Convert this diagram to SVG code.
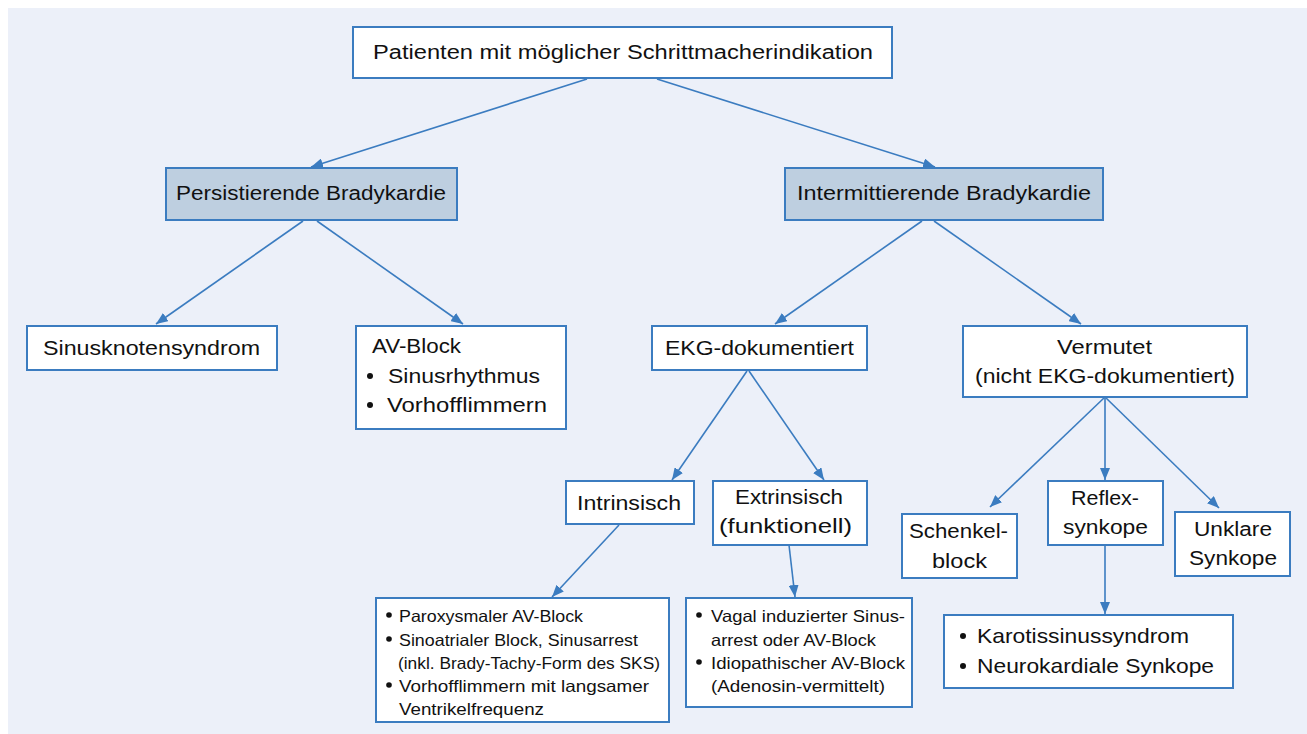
<svg xmlns="http://www.w3.org/2000/svg" width="1307" height="734" viewBox="0 0 1307 734">
<defs>
<marker id="ah" viewBox="0 0 12 10" refX="12" refY="5" markerWidth="12" markerHeight="10" markerUnits="userSpaceOnUse" orient="auto">
<path d="M0,0 L12,5 L0,10 z" fill="#3B7CC0"/>
</marker>
<style>
.bx{fill:#FFFFFF;stroke:#3B7CC0;stroke-width:2}
.hd{fill:#BECFE0;stroke:#3B7CC0;stroke-width:2}
.t{font-family:"Liberation Sans",Arial,sans-serif;font-size:20px;fill:#111111}
.s{font-family:"Liberation Sans",Arial,sans-serif;font-size:16.5px;fill:#111111}
.k{font-family:"Liberation Sans",Arial,sans-serif;font-size:21px;fill:#111111}
.c line{stroke:#3B7CC0;stroke-width:1.6;marker-end:url(#ah)}
.b{fill:#111111}
</style>
</defs>
<rect x="8" y="8" width="1299" height="726" fill="#ECF0F9"/>
<g class="c" id="connectors">
<line x1="587" y1="79" x2="311" y2="167"/>
<line x1="657" y1="79" x2="935" y2="167"/>
<line x1="303" y1="221" x2="156" y2="324"/>
<line x1="317" y1="221" x2="463" y2="324"/>
<line x1="922" y1="221" x2="775" y2="324"/>
<line x1="934" y1="221" x2="1081" y2="324"/>
<line x1="747" y1="371" x2="672" y2="480"/>
<line x1="749" y1="371" x2="824" y2="480"/>
<line x1="1105" y1="397" x2="990" y2="507"/>
<line x1="1105" y1="397" x2="1105" y2="480"/>
<line x1="1105" y1="397" x2="1219" y2="508"/>
<line x1="1105" y1="545" x2="1105" y2="614"/>
<line x1="619" y1="525" x2="552" y2="597"/>
<line x1="789" y1="545" x2="795" y2="597"/>
</g>
<g id="n_root">
<rect class="bx" x="353" y="27" width="539" height="51"/>
<text class="t" x="373" y="59" textLength="500" lengthAdjust="spacingAndGlyphs">Patienten mit möglicher Schrittmacherindikation</text>
</g>
<g id="n_persist">
<rect class="hd" x="166" y="168" width="291" height="52"/>
<text class="t" x="176" y="200" textLength="270" lengthAdjust="spacingAndGlyphs">Persistierende Bradykardie</text>
</g>
<g id="n_intermit">
<rect class="hd" x="785" y="168" width="318" height="52"/>
<text class="t" x="797" y="200" textLength="294" lengthAdjust="spacingAndGlyphs">Intermittierende Bradykardie</text>
</g>
<g id="n_sinus">
<rect class="bx" x="27" y="326" width="250" height="44"/>
<text class="t" x="43" y="355" textLength="217" lengthAdjust="spacingAndGlyphs">Sinusknotensyndrom</text>
</g>
<g id="n_avblock">
<rect class="bx" x="356" y="326" width="210" height="103"/>
<text class="t" x="372" y="353" textLength="89" lengthAdjust="spacingAndGlyphs">AV-Block</text>
<circle class="b" cx="370" cy="376" r="3"/>
<text class="t" x="388" y="383" textLength="152" lengthAdjust="spacingAndGlyphs">Sinusrhythmus</text>
<circle class="b" cx="370" cy="405" r="3"/>
<text class="t" x="387" y="412" textLength="160" lengthAdjust="spacingAndGlyphs">Vorhofflimmern</text>
</g>
<g id="n_ekg">
<rect class="bx" x="652" y="326" width="215" height="44"/>
<text class="t" x="665" y="355" textLength="189" lengthAdjust="spacingAndGlyphs">EKG-dokumentiert</text>
</g>
<g id="n_vermutet">
<rect class="bx" x="963" y="326" width="284" height="71"/>
<text class="t" x="1057" y="354" textLength="95" lengthAdjust="spacingAndGlyphs">Vermutet</text>
<text class="t" x="975" y="383" textLength="260" lengthAdjust="spacingAndGlyphs">(nicht EKG-dokumentiert)</text>
</g>
<g id="n_intrinsisch">
<rect class="bx" x="566" y="481" width="128" height="43"/>
<text class="t" x="577" y="510" textLength="104" lengthAdjust="spacingAndGlyphs">Intrinsisch</text>
</g>
<g id="n_extrinsisch">
<rect class="bx" x="713" y="481" width="154" height="64"/>
<text class="t" x="735" y="504" textLength="108" lengthAdjust="spacingAndGlyphs">Extrinsisch</text>
<text class="t" x="719" y="533" textLength="133" lengthAdjust="spacingAndGlyphs">(funktionell)</text>
</g>
<g id="n_schenkel">
<rect class="bx" x="902" y="514" width="115" height="64"/>
<text class="t" x="909" y="538" textLength="99" lengthAdjust="spacingAndGlyphs">Schenkel-</text>
<text class="t" x="932" y="568" textLength="55" lengthAdjust="spacingAndGlyphs">block</text>
</g>
<g id="n_reflex">
<rect class="bx" x="1048" y="481" width="115" height="64"/>
<text class="t" x="1071" y="505" textLength="68" lengthAdjust="spacingAndGlyphs">Reflex-</text>
<text class="t" x="1063" y="534" textLength="85" lengthAdjust="spacingAndGlyphs">synkope</text>
</g>
<g id="n_unklar">
<rect class="bx" x="1175" y="512" width="115" height="64"/>
<text class="t" x="1194" y="536" textLength="78" lengthAdjust="spacingAndGlyphs">Unklare</text>
<text class="t" x="1189" y="565" textLength="88" lengthAdjust="spacingAndGlyphs">Synkope</text>
</g>
<g id="n_karotis">
<rect class="bx" x="944" y="615" width="289" height="73"/>
<circle class="b" cx="963" cy="636" r="3"/>
<text class="k" x="977" y="643" textLength="212" lengthAdjust="spacingAndGlyphs">Karotissinussyndrom</text>
<circle class="b" cx="963" cy="666" r="3"/>
<text class="k" x="977" y="673" textLength="237" lengthAdjust="spacingAndGlyphs">Neurokardiale Synkope</text>
</g>
<g id="n_intr_list">
<rect class="bx" x="376" y="598" width="293" height="124"/>
<circle class="b" cx="389" cy="615" r="2.8"/>
<text class="s" x="399" y="622" textLength="184" lengthAdjust="spacingAndGlyphs">Paroxysmaler AV-Block</text>
<circle class="b" cx="389" cy="639" r="2.8"/>
<text class="s" x="399" y="646" textLength="239" lengthAdjust="spacingAndGlyphs">Sinoatrialer Block, Sinusarrest</text>
<text class="s" x="398" y="669" textLength="262" lengthAdjust="spacingAndGlyphs">(inkl. Brady-Tachy-Form des SKS)</text>
<circle class="b" cx="389" cy="685" r="2.8"/>
<text class="s" x="399" y="692" textLength="250" lengthAdjust="spacingAndGlyphs">Vorhofflimmern mit langsamer</text>
<text class="s" x="399" y="715" textLength="145" lengthAdjust="spacingAndGlyphs">Ventrikelfrequenz</text>
</g>
<g id="n_extr_list">
<rect class="bx" x="686" y="598" width="226" height="109"/>
<circle class="b" cx="699" cy="615" r="2.8"/>
<text class="s" x="711" y="622" textLength="194" lengthAdjust="spacingAndGlyphs">Vagal induzierter Sinus-</text>
<text class="s" x="711" y="646" textLength="165" lengthAdjust="spacingAndGlyphs">arrest oder AV-Block</text>
<circle class="b" cx="699" cy="662" r="2.8"/>
<text class="s" x="711" y="669" textLength="194" lengthAdjust="spacingAndGlyphs">Idiopathischer AV-Block</text>
<text class="s" x="711" y="692" textLength="174" lengthAdjust="spacingAndGlyphs">(Adenosin-vermittelt)</text>
</g>
</svg>
